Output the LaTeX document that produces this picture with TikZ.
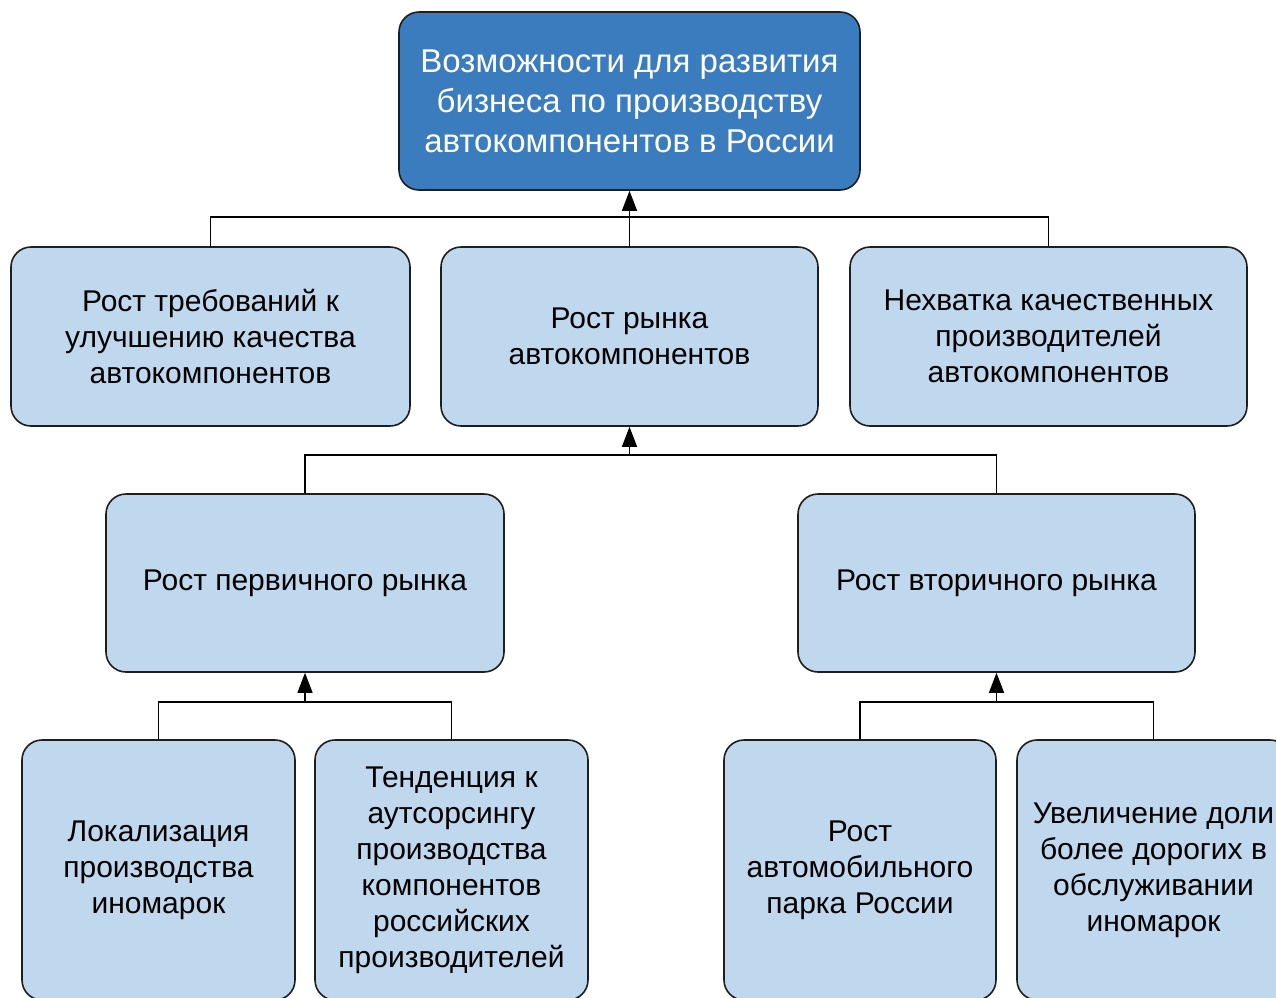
\documentclass[tikz,border=0pt]{standalone}
\usepackage{fontspec}
\setmainfont{Liberation Sans}
\usetikzlibrary{arrows.meta}
\definecolor{darkbox}{RGB}{58,124,190}
\definecolor{lightbox}{RGB}{192,216,238}
\definecolor{edge}{RGB}{30,30,30}
\tikzset{
  box/.style={draw=edge, line width=1.6pt, rounded corners=20pt, fill=lightbox,
    align=center, inner sep=0pt, font=\fontsize{30}{36}\selectfont, text=black},
  topbox/.style={box, fill=darkbox, text=white, font=\fontsize{33}{40}\selectfont},
  conn/.style={draw=black, line width=1.3pt},
  arr/.style={conn, -{Triangle[length=20pt,width=15pt]}}
}
\begin{document}
\begin{tikzpicture}[x=1pt,y=-1pt]
\useasboundingbox (0,0) rectangle (1276,997);
\clip (0,0) rectangle (1276,997);
\fill[white] (0,0) rectangle (1276,997);
% top
\node[topbox, minimum width=461pt, minimum height=178pt] (top) at (629.5,101)
  {Возможности для развития\\бизнеса по производству\\автокомпонентов в России};
% row 2
\node[box, minimum width=399pt, minimum height=179pt] (r2a) at (210.5,336.5)
  {Рост требований к\\улучшению качества\\автокомпонентов};
\node[box, minimum width=377pt, minimum height=179pt] (r2b) at (629.5,336.5)
  {Рост рынка\\автокомпонентов};
\node[box, minimum width=397pt, minimum height=179pt] (r2c) at (1048.5,336.5)
  {Нехватка качественных\\производителей\\автокомпонентов};
% row 3
\node[box, minimum width=398pt, minimum height=178pt] (p) at (305,583)
  {Рост первичного рынка};
\node[box, minimum width=397pt, minimum height=178pt] (s) at (996.5,583)
  {Рост вторичного рынка};
% row 4
\node[box, minimum width=273pt, minimum height=260pt] (l1) at (158.5,870)
  {Локализация\\производства\\иномарок};
\node[box, minimum width=273pt, minimum height=260pt] (l2) at (451.5,870)
  {Тенденция к\\аутсорсингу\\производства\\компонентов\\российских\\производителей};
\node[box, minimum width=272pt, minimum height=260pt] (l3) at (860,870)
  {Рост\\автомобильного\\парка России};
\node[box, minimum width=273pt, minimum height=260pt] (l4) at (1153.5,870)
  {Увеличение доли\\более дорогих в\\обслуживании\\иномарок};
% connectors
\coordinate (j1) at (629.5,217);
\coordinate (j2) at (629.5,455);
\coordinate (j3) at (305,702);
\coordinate (j4) at (996.5,702);
\draw[conn] (r2a.north) |- (j1) -| (r2c.north);
\draw[arr] (r2b.north) -- (top.south);
\draw[conn] (p.north) |- (j2) -| (s.north);
\draw[arr] (j2) -- (r2b.south);
\draw[conn] (l1.north) |- (j3) -| (l2.north);
\draw[arr] (j3) -- (p.south);
\draw[conn] (l3.north) |- (j4) -| (l4.north);
\draw[arr] (j4) -- (s.south);
\end{tikzpicture}
\end{document}
